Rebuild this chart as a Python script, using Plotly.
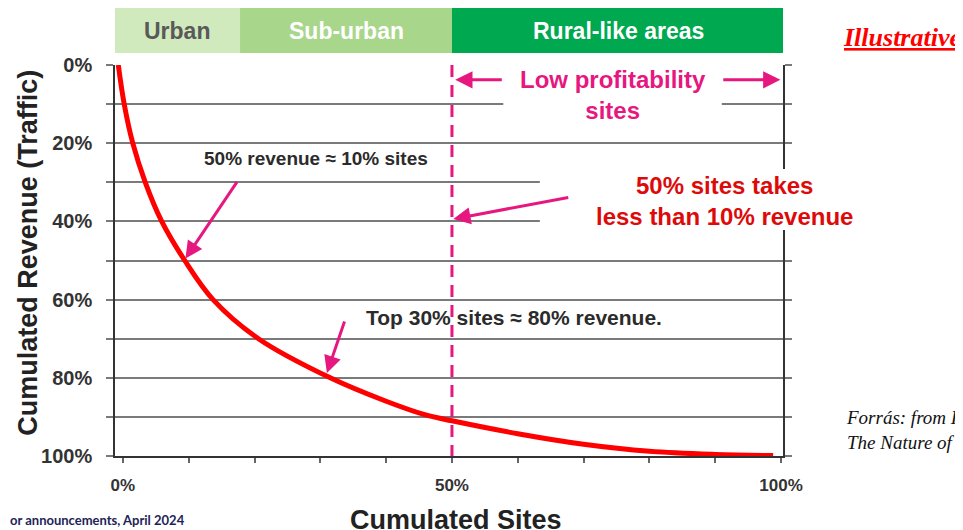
import plotly.graph_objects as go

# ---------------- data ----------------
site_pct = [-0.7, 0.2, 1.5, 3.4, 5.9, 9.4, 13.7, 20.6, 31.5, 40.0, 46.0, 50.0, 60.0, 70.0, 80.0, 90.0, 98.8]
revenue_pct = [0, 10, 20, 30, 40, 50, 60, 70, 80, 86.0, 89.5, 91.0, 94.3, 97.0, 98.8, 99.6, 99.9]

axis_ticks = [0, 10, 20, 30, 40, 50, 60, 70, 80, 90, 100]
y_tick_text = ["0%", "", "20%", "", "40%", "", "60%", "", "80%", "", "100%"]
x_tick_text = ["0%", "", "", "", "", "50%", "", "", "", "", "100%"]

band_labels = ["Urban", "Sub-urban", "Rural-like areas"]
band_start = [-1.5, 17.8, 50.0]
band_end = [17.8, 50.0, 100.5]
band_colors = ["#d0e9bd", "#a8d68a", "#00a84f"]
band_text_colors = ["#595959", "#ffffff", "#ffffff"]

split_site = 50  # dashed divider: low profitability sites

SANS = "Liberation Sans, Arial, sans-serif"
SERIF = "Liberation Serif, Times New Roman, serif"
MAGENTA = "#e6177f"

fig = go.Figure()

# main curve
fig.add_trace(go.Scatter(
    x=site_pct, y=revenue_pct, mode="lines",
    line=dict(color="#ff0000", width=5, shape="spline", smoothing=1.0),
    hoverinfo="skip", showlegend=False, cliponaxis=False))

# dashed divider
fig.add_trace(go.Scatter(
    x=[split_site, split_site], y=[0, 100], mode="lines",
    line=dict(color=MAGENTA, width=3, dash="12px,8px"),
    hoverinfo="skip", showlegend=False, cliponaxis=False))

shapes = []
annotations = []

# top category band
for lab, x0, x1, col, tcol in zip(band_labels, band_start, band_end, band_colors, band_text_colors):
    shapes.append(dict(type="rect", xref="x", yref="paper", x0=x0, x1=x1,
                       y0=1.0307, y1=1.1458, fillcolor=col, line=dict(width=0), layer="above"))
    annotations.append(dict(text=f"<b>{lab}</b>", xref="x", yref="paper",
                            x=(x0 + x1) / 2, y=1.0857, xanchor="center", yanchor="middle",
                            showarrow=False, font=dict(family=SANS, size=23, color=tcol)))

# white boxes behind text labels (break the grid lines)
shapes.append(dict(type="rect", xref="x", yref="paper", x0=57.8, x1=91.0, y0=0.859, y1=1.0153,
                   fillcolor="white", line=dict(width=0), layer="above"))
shapes.append(dict(type="rect", xref="paper", yref="y", x0=0.636, x1=1.03, y0=26.6, y1=42.2,
                   fillcolor="white", line=dict(width=0), layer="above"))

C = dict(xanchor="center", yanchor="middle", showarrow=False)

# text annotations
annotations += [
    dict(text="<b>50% revenue ≈ 10% sites</b>", x=29.35, y=23.8,
         font=dict(family=SANS, size=19, color="#2b2b2b"), **C),
    dict(text="<b>Top 30% sites ≈ 80% revenue.</b>", x=59.4, y=64.7,
         font=dict(family=SANS, size=21, color="#2b2b2b"), **C),
    dict(text="<b>Low profitability<br>sites</b>", x=74.4, y=7.7,
         font=dict(family=SANS, size=24, color=MAGENTA), **C),
    dict(text="<b>50% sites takes<br>less than 10% revenue</b>", x=91.4, y=34.7,
         font=dict(family=SANS, size=24, color="#dd0a0a"), **C),
    dict(text="<b><i><u>Illustrative</u></i></b>", xref="paper", yref="paper", x=1.0868, y=1.0716,
         xanchor="left", yanchor="middle", showarrow=False,
         font=dict(family=SERIF, size=26, color="#ff0000")),
    dict(text="<i>Forrás: from I<br>The Nature of</i>", xref="paper", yref="paper", x=1.091, y=0.0665,
         xanchor="left", yanchor="middle", align="left", showarrow=False,
         font=dict(family=SERIF, size=19, color="#111111")),
    dict(text="<b>or announcements, April 2024</b>", xref="paper", yref="paper", x=-0.1602, y=-0.1637,
         xanchor="left", yanchor="middle", showarrow=False,
         font=dict(family="Lato, Noto Sans, sans-serif", size=13, color="#1d2357")),
    dict(text="<b>Cumulated Revenue (Traffic)</b>", xref="paper", yref="paper", x=-0.13, y=0.52,
         textangle=-90, font=dict(family=SANS, size=27, color="#222222"), **C),
    dict(text="<b>Cumulated Sites</b>", xref="paper", yref="paper", x=0.5105, y=-0.163,
         font=dict(family=SANS, size=27, color="#222222"), **C),
]

# arrows (tip x,y ; tail ax,ay)
arrows = [
    (9.5, 49.5, 17.5, 29.5),
    (31.0, 78.8, 33.75, 65.2),
    (50.2, 39.4, 67.9, 33.8),
    (50.5, 3.8, 57.8, 3.8),
    (99.9, 3.8, 91.0, 3.8),
]
for x, y, ax, ay in arrows:
    annotations.append(dict(text="", x=x, y=y, ax=ax, ay=ay, axref="x", ayref="y",
                            showarrow=True, arrowhead=2, arrowsize=1.15, arrowwidth=3,
                            arrowcolor=MAGENTA, standoff=0, startstandoff=0))

fig.update_layout(
    width=955, height=522,
    margin=dict(l=107, r=180, t=57, b=74),
    plot_bgcolor="white", paper_bgcolor="white",
    shapes=shapes, annotations=annotations,
    xaxis=dict(range=[-1.2, 100.3], tickvals=axis_ticks, ticktext=x_tick_text,
               ticks="outside", ticklen=5, tickwidth=1.5, tickcolor="#666666",
               showline=True, linecolor="#333333", linewidth=1.5,
               showgrid=False, zeroline=False, ticklabelstandoff=8,
               tickfont=dict(family=SANS, size=17, color="#333333", weight="bold")),
    yaxis=dict(range=[100, 0], tickvals=axis_ticks, ticktext=y_tick_text,
               ticks="outside", ticklen=7, tickwidth=2, tickcolor="#7a7a7a",
               showline=True, linecolor="#333333", linewidth=1.5, mirror="ticks",
               showgrid=True, gridcolor="#7a7a7a", gridwidth=2, zeroline=False,
               ticklabelstandoff=10,
               tickfont=dict(family=SANS, size=20, color="#333333", weight="bold")),
)

fig.write_html("out.html")
